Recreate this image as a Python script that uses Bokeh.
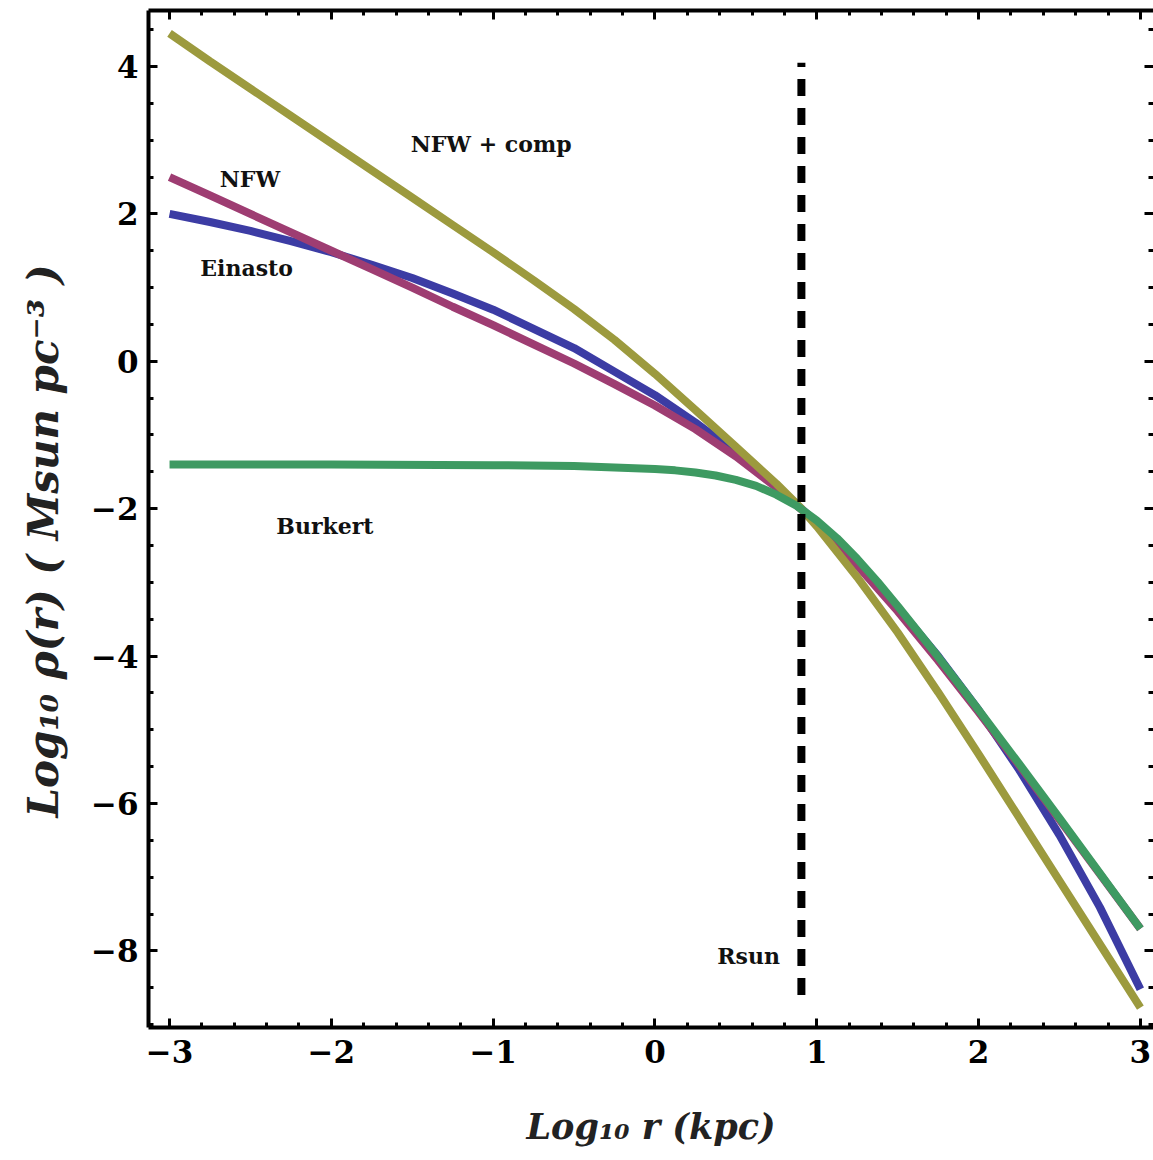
import numpy as np
from bokeh.plotting import figure
from bokeh.models import LinearAxis, FixedTicker, Range1d, CustomJSTickFormatter
from bokeh.embed import file_html
from bokeh.resources import INLINE
from bokeh.core.properties import value

# log10 r (kpc) sample points and log10 rho (Msun pc^-3) for each halo profile
log_r = [-3.0, -2.75, -2.5, -2.25, -2.0, -1.75, -1.5, -1.25, -1.0, -0.75, -0.5, -0.25,
         0.0, 0.25, 0.5, 0.75, 0.905, 1.0, 1.25, 1.5, 1.75, 2.0, 2.25, 2.5, 2.75, 3.0]
einasto = [2.00, 1.89, 1.77, 1.63, 1.48, 1.31, 1.13, 0.92, 0.70, 0.44, 0.18, -0.14,
           -0.46, -0.83, -1.24, -1.69, -2.00, -2.19, -2.74, -3.34, -4.00, -4.73, -5.54,
           -6.43, -7.41, -8.52]
nfw = [2.50, 2.25, 2.00, 1.75, 1.50, 1.25, 1.00, 0.74, 0.49, 0.23, -0.03, -0.31,
       -0.60, -0.92, -1.29, -1.71, -2.01, -2.20, -2.77, -3.39, -4.06, -4.76, -5.48,
       -6.22, -6.96, -7.70]
nfw_comp = [4.45, 4.07, 3.70, 3.33, 2.96, 2.59, 2.22, 1.85, 1.48, 1.10, 0.71, 0.29,
            -0.17, -0.66, -1.16, -1.66, -2.00, -2.24, -2.93, -3.68, -4.49, -5.33, -6.19,
            -7.05, -7.91, -8.77]

log_r_burkert = [-3.0, -2.0, -1.0, -0.5, 0.0, 0.125, 0.25, 0.375, 0.5, 0.625, 0.75,
                 0.875, 1.0, 1.125, 1.25, 1.375, 1.5, 1.75, 2.0, 2.25, 2.5, 2.75, 3.0]
burkert = [-1.40, -1.40, -1.41, -1.42, -1.46, -1.48, -1.51, -1.55, -1.61, -1.69, -1.81,
           -1.96, -2.16, -2.40, -2.68, -2.99, -3.32, -4.01, -4.73, -5.46, -6.20, -6.95, -7.70]

# Solar radius marker
rsun_x = [0.905, 0.905]
rsun_y = [-8.6, 4.05]

x_ticks = [-3, -2, -1, 0, 1, 2, 3]
y_ticks = [4, 2, 0, -2, -4, -6, -8]

blue = "#3C3CA4"
magenta = "#9E3D72"
olive = "#9C9A3E"
green = "#3E9A62"

p = figure(width=1153, height=1160, output_backend="svg", toolbar_location=None,
           x_range=Range1d(-3.13, 3.081), y_range=Range1d(-9.04, 4.76),
           min_border_left=148, min_border_right=0, min_border_top=10,
           min_border_bottom=133, background_fill_color="white")
p.outline_line_color = None
p.grid.visible = False

def minus(v):
    return str(v).replace("-", "\u2212")

x_minor = list(np.round(np.arange(-3.2, 3.21, 0.2), 2))
y_minor = list(np.round(np.arange(-9.0, 4.76, 0.5), 2))

bottom = p.xaxis[0]
left = p.yaxis[0]
top = LinearAxis()
right = LinearAxis()
p.add_layout(top, "above")
p.add_layout(right, "right")

for ax in [bottom, top]:
    ax.ticker = FixedTicker(ticks=x_ticks, minor_ticks=x_minor)
for ax in [left, right]:
    ax.ticker = FixedTicker(ticks=y_ticks, minor_ticks=y_minor)

for ax in [bottom, left, top, right]:
    ax.axis_line_color = "black"
    ax.axis_line_width = 4
    ax.major_tick_in = 9
    ax.major_tick_out = 0
    ax.minor_tick_in = 5
    ax.minor_tick_out = 0
    ax.major_tick_line_width = 3
    ax.minor_tick_line_width = 3
    ax.major_tick_line_color = "black"
    ax.minor_tick_line_color = "black"
    ax.major_label_text_font = "DejaVu Serif"
    ax.major_label_text_font_style = "bold"
    ax.major_label_text_font_size = "31px"
    ax.major_label_text_color = "black"

# frame ticks only on the top and right edges
for ax in [top, right]:
    ax.formatter = CustomJSTickFormatter(code="return ''")
    ax.major_label_standoff = 0
right.axis_line_color = None

bottom.major_label_overrides = {t: minus(t) for t in x_ticks}
left.major_label_overrides = {t: minus(t) for t in y_ticks}
bottom.major_label_standoff = 12
left.major_label_standoff = 10

bottom.axis_label = "Log\u2081\u2080 r (kpc)"
left.axis_label = "Log\u2081\u2080  \u03c1(r)  ( Msun  pc\u207b\u00b3 )"
for ax in [bottom, left]:
    ax.axis_label_text_font = "DejaVu Serif"
    ax.axis_label_text_font_style = "bold italic"
    ax.axis_label_text_color = "#222222"
bottom.axis_label_text_font_size = "35px"
left.axis_label_text_font_size = "42px"
bottom.axis_label_standoff = 40
left.axis_label_standoff = 20

# profiles, drawn in the order of the original plot
lw = 8
p.line(log_r, einasto, line_color=blue, line_width=lw)
p.line(log_r, nfw, line_color=magenta, line_width=lw)
p.line(log_r, nfw_comp, line_color=olive, line_width=lw)
p.line(log_r_burkert, burkert, line_color=green, line_width=lw)

p.line(rsun_x, rsun_y, line_color="black", line_width=8, line_dash="17 12")

labels = [("NFW + comp", -1.51, 2.95), ("NFW", -2.69, 2.48), ("Einasto", -2.81, 1.27),
          ("Burkert", -2.34, -2.24), ("Rsun", 0.385, -8.07)]
p.text(x=[l[1] for l in labels], y=[l[2] for l in labels], text=[l[0] for l in labels],
       text_font=value("DejaVu Serif"), text_font_style="bold", text_font_size="22px",
       text_align="left", text_baseline="middle", text_color="#111111")

open("out.html", "w").write(file_html(p, INLINE))
